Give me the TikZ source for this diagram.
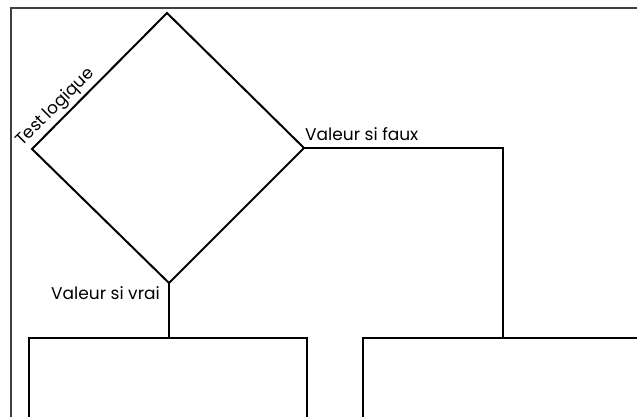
\documentclass[tikz,border=0pt]{standalone}
\usepackage{fontspec}
\setmainfont{Poppins}
\begin{document}
\begin{tikzpicture}[x=1pt,y=-1pt,
  outline/.style={draw=black,line width=2pt,line join=miter},
  conn/.style={draw=black,line width=2pt},
  framebox/.style={draw=black!75,line width=1.3pt},
  lbl/.style={font=\fontsize{17}{19}\selectfont,inner sep=0pt}]
\useasboundingbox (0,0) rectangle (637,417);
% frame
\draw[framebox] (11,417) -- (11,8) -- (637,8);
% diamond
\coordinate (dt) at (167,13);
\coordinate (dl) at (32,149);
\coordinate (dr) at (304,148);
\coordinate (db) at (169,283);
\draw[outline] (dt) -- (dr) -- (db) -- (dl) -- cycle;
% boxes
\coordinate (vtop) at (169,338);
\coordinate (ftop) at (503,338);
\draw[outline] (29,417) -- (29,338) -- (307,338) -- (307,417);
\draw[outline] (363,417) -- (363,338) -- (637,338);
% connectors
\draw[conn] (db) -- (vtop);
\draw[conn] (dr) -- (503,148) -- (ftop);
% labels
\node[lbl,anchor=base west] (faux) at (305,141) {Valeur si faux};
\node[lbl,anchor=base east] (vrai) at (160,299) {Valeur si vrai};
\node[lbl,anchor=base west,rotate=45] (test) at (22,147) {Test logique};
\end{tikzpicture}
\end{document}
